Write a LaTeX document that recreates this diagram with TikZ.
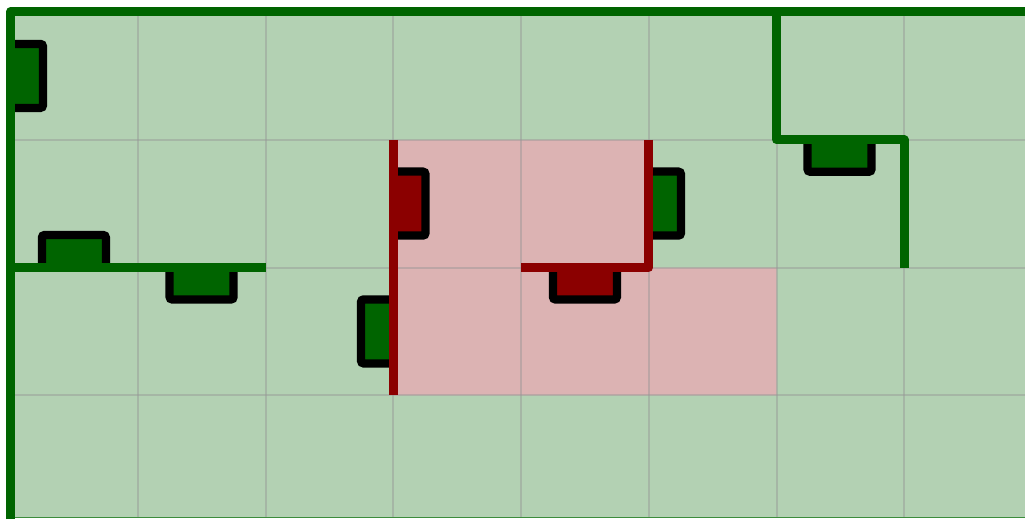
\documentclass[tikz,border=0pt]{standalone}
\definecolor{wallgreen}{RGB}{0,100,0}
\definecolor{wallred}{RGB}{139,0,0}
\definecolor{roomgreen}{RGB}{179,209,179}
\definecolor{roompink}{RGB}{220,179,179}
\definecolor{gridgray}{RGB}{150,150,150}
\definecolor{edgegreen}{RGB}{60,140,60}
\tikzset{
  gridline/.style={draw=gridgray, draw opacity=0.45, line width=1.5pt},
  wallg/.style={draw=wallgreen, line width=6.75pt, line join=round},
  wallr/.style={draw=wallred, line width=6.75pt, line join=round},
  doorg/.style={draw=black, fill=wallgreen, line width=6.2pt, rounded corners=2pt},
  doorr/.style={draw=black, fill=wallred, line width=6.2pt, rounded corners=2pt}
}
\begin{document}
\begin{tikzpicture}[x=0.75pt,y=-0.75pt]
\useasboundingbox (0,0) rectangle (1025,519);
\fill[white] (0,0) rectangle (1025,519);
% floor
\fill[roomgreen] (10,12) rectangle (1025,517);
\fill[roompink] (393.25,139.75) -- (648.75,139.75) -- (648.75,267.5) -- (776.5,267.5) -- (776.5,395.25) -- (393.25,395.25) -- cycle;
% grid
\foreach \i in {1,...,7} {
  \draw[gridline] ({10+127.75*\i},12) -- ({10+127.75*\i},517);
}
\foreach \j in {1,2,3} {
  \draw[gridline] (10,{12+127.75*\j}) -- (1025,{12+127.75*\j});
}
\draw[draw=edgegreen, line width=1.2pt] (10,517.6) -- (1025,517.6);
% doors
\draw[doorg] (10,43.9) -- (43,43.9) -- (43,107.9) -- (10,107.9);
\draw[doorg] (41.9,267.5) -- (41.9,235) -- (105.9,235) -- (105.9,267.5);
\draw[doorg] (169.6,267.5) -- (169.6,299.5) -- (233.6,299.5) -- (233.6,267.5);
\draw[doorr] (393.25,171.6) -- (425.5,171.6) -- (425.5,235.6) -- (393.25,235.6);
\draw[doorg] (393.25,299.4) -- (361,299.4) -- (361,363.4) -- (393.25,363.4);
\draw[doorg] (648.75,171.6) -- (681,171.6) -- (681,235.6) -- (648.75,235.6);
\draw[doorr] (552.9,267.5) -- (552.9,299.5) -- (616.9,299.5) -- (616.9,267.5);
\draw[doorg] (807.5,139.75) -- (807.5,171.75) -- (871.5,171.75) -- (871.5,139.75);
% walls
\draw[wallg] (10.8,519) -- (10.8,11.5) -- (1025,11.5);
\draw[wallg] (10,267.5) -- (265.5,267.5);
\draw[wallg] (776.5,11.5) -- (776.5,139.75) -- (904.25,139.75) -- (904.25,267.5);
\draw[wallr] (393.25,139.75) -- (393.25,395.25);
\draw[wallr] (648.75,139.75) -- (648.75,267.5) -- (521,267.5);
\end{tikzpicture}
\end{document}
